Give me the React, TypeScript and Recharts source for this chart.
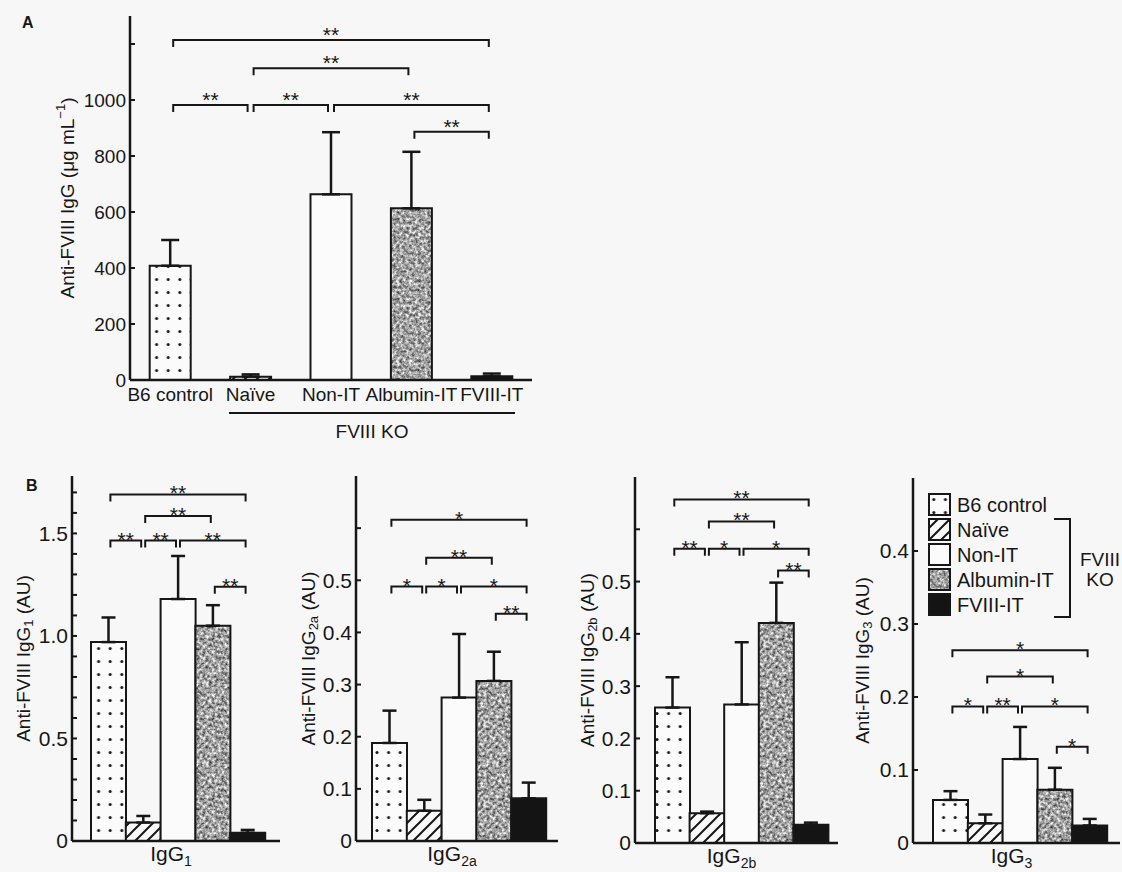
import React from "react";
import { Bar, BarChart, Cell, ErrorBar, Legend, ReferenceLine, XAxis, YAxis } from "recharts";

const FONT = '"Liberation Sans", Arial, Helvetica, sans-serif';
const INK = "#161616";
const PAPER = "#f7f7f7";

const groups = ["B6 control", "Naïve", "Non-IT", "Albumin-IT", "FVIII-IT"];
const koGroups = ["Naïve", "Non-IT", "Albumin-IT", "FVIII-IT"];

// A: total anti-FVIII IgG (ug/mL), mean + upper SD
const iggTotal = [408, 12, 663, 613, 13];
const iggTotalSd = [92, 8, 222, 202, 10];
// B: subclasses (AU)
const igg1 = [0.97, 0.09, 1.18, 1.05, 0.04];
const igg1Sd = [0.12, 0.032, 0.21, 0.1, 0.014];
const igg2a = [0.188, 0.058, 0.275, 0.307, 0.082];
const igg2aSd = [0.062, 0.021, 0.122, 0.056, 0.03];
const igg2b = [0.259, 0.057, 0.265, 0.421, 0.035];
const igg2bSd = [0.058, 0.003, 0.119, 0.077, 0.004];
const igg3 = [0.059, 0.027, 0.115, 0.073, 0.024];
const igg3Sd = [0.012, 0.012, 0.044, 0.03, 0.009];

const ticksA = [0, 200, 400, 600, 800, 1000, 1200];
const labelsA = [0, 200, 400, 600, 800, 1000];
const ticksB1 = [0, 0.1, 0.2, 0.3, 0.4, 0.5, 0.6, 0.7, 0.8, 0.9, 1, 1.1, 1.2, 1.3, 1.4, 1.5, 1.6, 1.7];
const labelsB1 = [0, 0.5, 1, 1.5];
const ticksB2 = [0, 0.1, 0.2, 0.3, 0.4, 0.5, 0.6];
const labelsB2 = [0, 0.1, 0.2, 0.3, 0.4, 0.5];
const ticksB4 = [0, 0.1, 0.2, 0.3, 0.4];

// significance brackets: [from, to, level, mark]
type Bracket = [string, string, number, string];
const bracketsA: Bracket[] = [
  ["B6 control", "FVIII-IT", 1214, "**"],
  ["Naïve", "Albumin-IT", 1113, "**"],
  ["B6 control", "Naïve", 982, "**"],
  ["Naïve", "Non-IT", 982, "**"],
  ["Non-IT", "FVIII-IT", 982, "**"],
  ["Albumin-IT", "FVIII-IT", 887, "**"],
];
const bracketsB1: Bracket[] = [
  ["B6 control", "FVIII-IT", 1.69, "**"],
  ["Naïve", "Albumin-IT", 1.585, "**"],
  ["B6 control", "Naïve", 1.465, "**"],
  ["Naïve", "Non-IT", 1.465, "**"],
  ["Non-IT", "FVIII-IT", 1.465, "**"],
  ["Albumin-IT", "FVIII-IT", 1.24, "**"],
];
const bracketsB2: Bracket[] = [
  ["B6 control", "FVIII-IT", 0.616, "*"],
  ["Naïve", "Albumin-IT", 0.543, "**"],
  ["B6 control", "Naïve", 0.488, "*"],
  ["Naïve", "Non-IT", 0.488, "*"],
  ["Non-IT", "FVIII-IT", 0.488, "*"],
  ["Albumin-IT", "FVIII-IT", 0.436, "**"],
];
const bracketsB3: Bracket[] = [
  ["B6 control", "FVIII-IT", 0.657, "**"],
  ["Naïve", "Albumin-IT", 0.615, "**"],
  ["B6 control", "Naïve", 0.563, "**"],
  ["Naïve", "Non-IT", 0.563, "*"],
  ["Non-IT", "FVIII-IT", 0.563, "*"],
  ["Albumin-IT", "FVIII-IT", 0.521, "**"],
];
const bracketsB4: Bracket[] = [
  ["B6 control", "FVIII-IT", 0.264, "*"],
  ["Naïve", "Albumin-IT", 0.228, "*"],
  ["B6 control", "Naïve", 0.187, "*"],
  ["Naïve", "Non-IT", 0.187, "**"],
  ["Non-IT", "FVIII-IT", 0.187, "*"],
  ["Albumin-IT", "FVIII-IT", 0.132, "*"],
];

const fills = ["url(#dots)", "url(#hatch)", "#fbfbfb", "url(#grain)", "#141414"];

const rowsOf = (vals: number[], sds: number[]) =>
  groups.map((g, i) => ({ group: g, value: vals[i], err: [0, sds[i]] }));

type Seg = [string, number?];

function segs(parts: Seg[], small: number) {
  let prev = 0;
  return parts.map(([t, shift = 0], i) => {
    const dy = shift - prev;
    prev = shift;
    return (
      <tspan key={i} dy={dy} fontSize={shift ? small : undefined}>
        {t}
      </tspan>
    );
  });
}

function YTitle(props: any) {
  const { x = 0, y = 0, width = 0, height = 0 } = props.viewBox || {};
  const cx = x + width - props.gap;
  const cy = y + height / 2;
  return (
    <text
      x={cx}
      y={cy}
      transform={`rotate(-90 ${cx} ${cy})`}
      textAnchor="middle"
      dominantBaseline="central"
      fontFamily={FONT}
      fontSize={19}
      fill={INK}
    >
      {segs(props.parts, 13)}
    </text>
  );
}

function XCaption(props: any) {
  const { x = 0, y = 0, width = 0 } = props.viewBox || {};
  return (
    <text x={x + width / 2 - 5} y={y + 20} textAnchor="middle" fontFamily={FONT} fontSize={21} fill={INK}>
      {segs(props.parts, 14)}
    </text>
  );
}

function bracketShape(mark: string, drop: number, lift: number, trim: number) {
  return (p: any) => {
    const l = p.x1 + trim;
    const r = p.x2 - trim;
    const y = p.y1;
    return (
      <g>
        <path d={`M${l},${y + drop}V${y}H${r}V${y + drop}`} fill="none" stroke={INK} strokeWidth={2} />
        <text x={(l + r) / 2} y={y + lift} textAnchor="middle" fontFamily={FONT} fontSize={21} fill={INK}>
          {mark}
        </text>
      </g>
    );
  };
}

function Patterns() {
  return (
    <svg width={0} height={0} style={{ position: "absolute" }}>
      <defs>
        <pattern id="dots" width="11.6" height="13" patternUnits="userSpaceOnUse">
          <rect width="11.6" height="13" fill="#fbfbfb" />
          <circle cx="5.8" cy="6.5" r="1.5" fill={INK} />
        </pattern>
        <pattern id="hatch" width="12" height="12" patternUnits="userSpaceOnUse">
          <rect width="12" height="12" fill="#fbfbfb" />
          <path d="M-3,3 L3,-3 M0,12 L12,0 M9,15 L15,9" stroke={INK} strokeWidth="2" />
        </pattern>
        <filter id="noise" x="0" y="0" width="1" height="1" colorInterpolationFilters="sRGB">
          <feTurbulence type="fractalNoise" baseFrequency="0.32" numOctaves="3" seed="7" stitchTiles="stitch" />
          <feColorMatrix type="matrix" values="1.25 0 0 0 0.01  1.25 0 0 0 0.01  1.25 0 0 0 0.01  0 0 0 0 1" />
        </filter>
        <pattern id="grain" width="80" height="80" patternUnits="userSpaceOnUse">
          <rect width="80" height="80" fill="#a4a4a4" filter="url(#noise)" />
        </pattern>
      </defs>
    </svg>
  );
}

function GroupKey() {
  const pitch = 25;
  return (
    <svg width={194} height={128} style={{ display: "block" }}>
      {groups.map((g, i) => (
        <g key={g}>
          <rect x={1} y={i * pitch + 1} width={21} height={21} fill={fills[i]} stroke={INK} strokeWidth={2} />
          <text x={29} y={i * pitch + 12} dominantBaseline="central" fontFamily={FONT} fontSize={20} fill={INK}>
            {g}
          </text>
        </g>
      ))}
      <path d="M126,26 H142 V124 H126" fill="none" stroke={INK} strokeWidth={2} />
      <text x={172} y={66} textAnchor="middle" dominantBaseline="central" fontFamily={FONT} fontSize={19} fill={INK}>
        FVIII
      </text>
      <text x={172} y={86} textAnchor="middle" dominantBaseline="central" fontFamily={FONT} fontSize={19} fill={INK}>
        KO
      </text>
    </svg>
  );
}

type PanelProps = {
  left: number;
  top: number;
  width: number;
  height: number;
  margin: { top: number; right: number; bottom: number; left: number };
  rows: any[];
  domain: [number, number];
  ticks: number[];
  labels: number[];
  fmt: (v: number) => string;
  brackets: Bracket[];
  yWidth: number;
  yGap: number;
  yTitle: Seg[];
  tickFont: number;
  cap: number;
  lift: number;
  trim: number;
  catGap: number | string;
  padding?: { left: number; right: number };
  caption?: Seg[];
  xHeight: number;
  legend?: boolean;
};

function Panel(p: PanelProps) {
  return (
    <div style={{ position: "absolute", left: p.left, top: p.top }}>
      <BarChart width={p.width} height={p.height} data={p.rows} margin={p.margin} barCategoryGap={p.catGap}>
        <XAxis
          dataKey="group"
          type="category"
          interval={0}
          height={p.xHeight}
          padding={p.padding}
          tickLine={false}
          axisLine={{ stroke: INK, strokeWidth: 2.5 }}
          tick={p.caption ? false : { fontSize: 19, fill: INK, fontFamily: FONT }}
          label={p.caption ? <XCaption parts={p.caption} /> : undefined}
        />
        <YAxis
          type="number"
          domain={p.domain}
          ticks={p.ticks}
          interval={0}
          width={p.yWidth}
          tickSize={-5}
          tickMargin={9}
          axisLine={{ stroke: INK, strokeWidth: 2.5 }}
          tickLine={{ stroke: INK, strokeWidth: 2 }}
          tick={{ fontSize: p.tickFont, fill: INK, fontFamily: FONT }}
          tickFormatter={(v: number) => (p.labels.includes(v) ? (v === 0 ? "0" : p.fmt(v)) : "")}
          label={<YTitle parts={p.yTitle} gap={p.yGap} />}
        />
        <Bar dataKey="value" stroke={INK} strokeWidth={2} isAnimationActive={false}>
          {p.rows.map((r, i) => (
            <Cell key={r.group} fill={fills[i]} />
          ))}
          <ErrorBar dataKey="err" width={p.cap} stroke={INK} strokeWidth={2.5} direction="y" />
        </Bar>
        {p.brackets.map(([a, b, lvl, mark], i) => (
          <ReferenceLine
            key={i}
            segment={[
              { x: a, y: lvl },
              { x: b, y: lvl },
            ]}
            shape={bracketShape(mark, 7, p.lift, p.trim)}
          />
        ))}
        {p.legend && (
          <Legend
            layout="vertical"
            align="center"
            verticalAlign="middle"
            wrapperStyle={{ left: 83, top: 33, width: 194 }}
            content={() => <GroupKey />}
          />
        )}
      </BarChart>
    </div>
  );
}

const one = (v: number) => v.toFixed(1);
const letter: React.CSSProperties = {
  position: "absolute",
  fontFamily: FONT,
  fontWeight: "bold",
  fontSize: 16,
  color: INK,
  lineHeight: "16px",
};

export default function App() {
  const bTitle = (sub: string): Seg[] => [["Anti-FVIII IgG"], [sub, 5], [" (AU)"]];
  const bCap = (sub: string): Seg[] => [["IgG"], [sub, 5]];
  return (
    <div
      style={{
        position: "absolute",
        left: 0,
        top: 0,
        width: 1122,
        height: 872,
        background: PAPER,
        overflow: "hidden",
      }}
    >
      <Patterns />
      <div style={{ ...letter, left: 22, top: 15 }}>A</div>
      <div style={{ ...letter, left: 26, top: 478 }}>B</div>

      <Panel
        left={0}
        top={0}
        width={560}
        height={450}
        margin={{ top: 16, right: 28, bottom: 30, left: 30 }}
        rows={rowsOf(iggTotal, iggTotalSd)}
        domain={[0, 1300]}
        ticks={ticksA}
        labels={labelsA}
        fmt={(v) => String(v)}
        brackets={bracketsA}
        yWidth={100}
        yGap={63}
        yTitle={[["Anti-FVIII IgG (μg mL"], ["−1", -7], [")"]]}
        tickFont={19}
        cap={9}
        lift={2}
        trim={3}
        catGap="24.5%"
        xHeight={40}
      />
      <div
        style={{
          position: "absolute",
          left: 229,
          top: 412,
          width: 286,
          borderTop: `2px solid ${INK}`,
          paddingTop: 8,
          textAlign: "center",
          fontFamily: FONT,
          fontSize: 19,
          lineHeight: "19px",
          color: INK,
        }}
        title={koGroups.join(", ")}
      >
        FVIII KO
      </div>

      <Panel
        left={0}
        top={460}
        width={290}
        height={412}
        margin={{ top: 16, right: 10, bottom: 1, left: 12 }}
        rows={rowsOf(igg1, igg1Sd)}
        domain={[0, 1.78]}
        ticks={ticksB1}
        labels={labelsB1}
        fmt={one}
        brackets={bracketsB1}
        yWidth={60}
        yGap={49}
        yTitle={bTitle("1")}
        tickFont={21}
        cap={7}
        lift={6}
        trim={2}
        catGap={0}
        padding={{ left: 19, right: 15 }}
        caption={bCap("1")}
        xHeight={30}
      />
      <Panel
        left={290}
        top={460}
        width={280}
        height={412}
        margin={{ top: 16, right: 12, bottom: 1, left: 6 }}
        rows={rowsOf(igg2a, igg2aSd)}
        domain={[0, 0.7]}
        ticks={ticksB2}
        labels={labelsB2}
        fmt={one}
        brackets={bracketsB2}
        yWidth={60}
        yGap={48}
        yTitle={bTitle("2a")}
        tickFont={21}
        cap={7}
        lift={6}
        trim={2}
        catGap={0}
        padding={{ left: 16, right: 12 }}
        caption={bCap("2a")}
        xHeight={30}
      />
      <Panel
        left={570}
        top={460}
        width={275}
        height={412}
        margin={{ top: 17, right: 7, bottom: 0, left: 5 }}
        rows={rowsOf(igg2b, igg2bSd)}
        domain={[0, 0.7]}
        ticks={ticksB2}
        labels={labelsB2}
        fmt={one}
        brackets={bracketsB3}
        yWidth={60}
        yGap={48}
        yTitle={bTitle("2b")}
        tickFont={21}
        cap={7}
        lift={6}
        trim={2}
        catGap={0}
        padding={{ left: 20, right: 10 }}
        caption={bCap("2b")}
        xHeight={29}
      />
      <Panel
        left={845}
        top={460}
        width={277}
        height={412}
        margin={{ top: 18, right: 2, bottom: 0, left: 8 }}
        rows={rowsOf(igg3, igg3Sd)}
        domain={[0, 0.5]}
        ticks={ticksB4}
        labels={ticksB4}
        fmt={one}
        brackets={bracketsB4}
        yWidth={60}
        yGap={51}
        yTitle={bTitle("3")}
        tickFont={21}
        cap={7}
        lift={6}
        trim={2}
        catGap={0}
        padding={{ left: 20, right: 13 }}
        caption={bCap("3")}
        xHeight={29}
        legend
      />
    </div>
  );
}
